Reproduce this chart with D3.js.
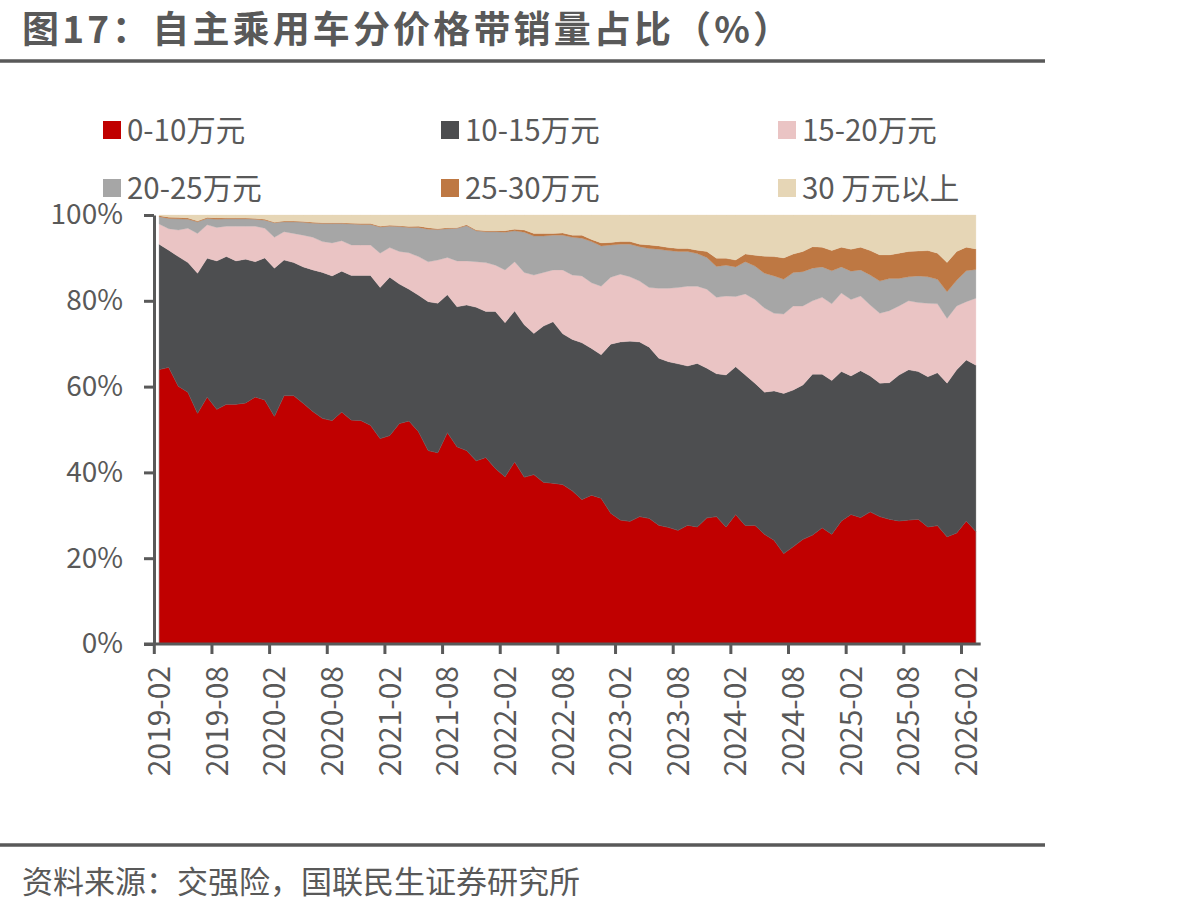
<!DOCTYPE html>
<html><head><meta charset="utf-8">
<script src="https://cdn.jsdelivr.net/npm/d3@7"></script>
<style>
body{margin:0;background:#fff}
svg{display:block}
text{font-family:"Noto Sans CJK SC","Noto Sans",sans-serif;fill:#595959}
</style></head>
<body><svg id="c" width="1200" height="912"></svg>
<script>
const months = ["2019-02","2019-03","2019-04","2019-05","2019-06","2019-07","2019-08","2019-09","2019-10","2019-11","2019-12",
"2020-01","2020-02","2020-03","2020-04","2020-05","2020-06","2020-07","2020-08","2020-09","2020-10","2020-11","2020-12",
"2021-01","2021-02","2021-03","2021-04","2021-05","2021-06","2021-07","2021-08","2021-09","2021-10","2021-11","2021-12",
"2022-01","2022-02","2022-03","2022-04","2022-05","2022-06","2022-07","2022-08","2022-09","2022-10","2022-11","2022-12",
"2023-01","2023-02","2023-03","2023-04","2023-05","2023-06","2023-07","2023-08","2023-09","2023-10","2023-11","2023-12",
"2024-01","2024-02","2024-03","2024-04","2024-05","2024-06","2024-07","2024-08","2024-09","2024-10","2024-11","2024-12",
"2025-01","2025-02","2025-03","2025-04","2025-05","2025-06","2025-07","2025-08","2025-09","2025-10","2025-11","2025-12",
"2026-01","2026-02","2026-03"];
const tickLabels = ["2019-02","2019-08","2020-02","2020-08","2021-02","2021-08","2022-02","2022-08","2023-02","2023-08","2024-02","2024-08","2025-02","2025-08","2026-02"];
const seriesNames = ["0-10万元","10-15万元","15-20万元","20-25万元","25-30万元","30 万元以上"];
const seriesColors = ["#C00000","#4D4E50","#EAC4C4","#A6A6A6","#BE7843","#E6D6B6"];
const yTicks = [0,20,40,60,80,100];

const s0_10 = [64.0,64.5,60.1,58.7,53.8,57.6,54.7,55.9,55.9,56.2,57.6,56.9,53.1,57.9,57.9,56.1,54.2,52.6,52.1,54.1,52.2,52.1,51.0,47.9,48.6,51.4,52.0,49.5,45.1,44.6,49.3,46.0,45.1,42.7,43.5,40.9,39.0,42.5,38.9,39.5,37.7,37.5,37.2,35.7,33.7,34.7,34.0,30.5,28.9,28.6,29.7,29.3,27.7,27.2,26.5,27.7,27.3,29.4,29.7,27.3,30.2,27.6,27.7,25.6,24.2,21.1,22.7,24.4,25.4,27.1,25.6,28.7,30.2,29.5,30.8,29.7,29.1,28.7,28.9,29.1,27.3,27.6,25.0,25.9,28.7,26.2];
const s10_15 = [29.2,27.3,30.2,30.2,32.6,32.3,34.6,34.4,33.4,33.5,31.5,33.1,34.5,31.6,31.0,31.8,33.0,34.0,33.7,32.8,33.7,33.8,34.9,35.2,36.9,32.5,30.7,31.8,34.7,34.8,32.1,32.6,33.9,35.8,34.0,36.6,35.9,35.1,35.5,32.9,36.4,37.6,35.1,35.3,36.5,34.2,33.4,39.4,41.5,42.0,40.7,39.9,38.9,38.6,38.8,37.1,38.1,34.9,33.3,35.4,34.4,35.1,33.1,33.1,34.8,37.3,36.5,36.0,37.5,35.8,35.8,34.8,32.3,34.2,31.7,31.1,31.8,34.0,35.0,34.4,35.0,35.6,35.8,38.0,37.5,38.8];
const s15_20 = [4.7,5.0,6.2,8.0,9.3,7.8,7.8,7.1,8.1,7.7,8.3,6.9,7.2,6.6,6.8,7.4,7.6,7.2,7.7,7.1,7.1,7.1,7.1,8.0,6.9,7.6,8.5,9.0,9.3,10.1,8.7,10.7,10.3,10.6,11.4,10.8,12.3,11.5,12.2,13.6,12.5,12.1,14.9,15.0,15.6,15.3,16.0,15.6,15.8,15.0,14.2,13.9,16.3,17.1,17.8,18.6,18.0,18.4,17.8,18.4,16.4,18.9,19.5,19.6,18.1,18.5,19.6,18.4,17.1,17.9,17.9,18.3,17.8,17.4,16.5,16.3,16.8,16.1,16.1,16.1,17.1,16.1,15.1,14.9,13.6,15.6];
const s20_25 = [1.7,2.4,2.6,2.1,2.7,1.5,1.9,1.7,1.7,1.7,1.6,1.9,3.4,2.3,2.7,3.0,3.3,4.2,4.5,4.0,4.9,4.8,4.8,6.1,5.0,5.8,5.9,6.8,7.6,7.1,6.7,7.6,8.2,7.2,7.2,7.8,8.8,7.2,9.4,9.1,8.5,8.1,8.1,8.8,8.8,9.6,9.4,7.5,7.0,7.6,8.0,9.1,9.1,8.8,8.4,8.1,7.6,7.4,7.2,7.2,6.9,7.5,7.8,8.1,8.7,8.1,7.8,8.0,7.6,7.1,7.7,6.1,6.6,6.1,7.0,7.5,7.5,6.4,5.6,6.2,6.2,5.7,6.2,6.0,7.2,6.7];
const s25_30 = [0.2,0.3,0.3,0.3,0.2,0.2,0.3,0.2,0.2,0.2,0.2,0.2,0.1,0.2,0.2,0.2,0.2,0.2,0.2,0.2,0.2,0.2,0.2,0.2,0.2,0.2,0.2,0.3,0.3,0.2,0.2,0.1,0.2,0.2,0.2,0.2,0.3,0.4,0.5,0.6,0.6,0.4,0.5,0.5,0.7,0.5,0.7,0.6,0.6,0.6,0.6,0.8,0.8,0.7,0.7,0.7,0.8,1.4,1.9,1.6,1.6,1.8,2.5,4.0,4.5,5.0,4.3,4.7,5.0,4.6,4.7,4.6,5.1,5.3,5.7,6.1,5.5,5.9,5.9,5.8,6.1,6.1,6.8,6.7,5.5,4.8];
const s30plus = [0.2,0.5,0.6,0.7,1.4,0.6,0.7,0.7,0.7,0.7,0.8,1.0,1.7,1.4,1.4,1.5,1.7,1.8,1.8,1.8,1.9,2.0,2.0,2.6,2.4,2.5,2.7,2.6,3.0,3.2,3.0,3.0,2.3,3.5,3.7,3.7,3.7,3.3,3.5,4.3,4.3,4.3,4.2,4.7,4.7,5.7,6.5,6.4,6.2,6.2,6.8,7.0,7.2,7.6,7.8,7.8,8.2,8.5,10.1,10.1,10.5,9.1,9.4,9.6,9.7,10.0,9.1,8.5,7.4,7.5,8.3,7.5,8.0,7.5,8.3,9.3,9.3,8.9,8.5,8.4,8.3,8.9,11.1,8.5,7.5,7.9];

const seriesData = [s0_10, s10_15, s15_20, s20_25, s25_30, s30plus];
const table = months.map((m, i) => {
  const row = {month: m};
  seriesNames.forEach((k, j) => row[k] = seriesData[j][i]);
  return row;
});

const svg = d3.select("#c");
svg.append("rect").attr("width",1200).attr("height",912).attr("fill","#fff");

const x = d3.scaleBand().domain(months).range([154.3, 980.7]).padding(0);
const bw = x.bandwidth();
const y = d3.scaleLinear().domain([0,100]).range([644, 215]);

const stack = d3.stack().keys(seriesNames);
const layers = stack(table);
const area = d3.area()
  .x(d => x(d.data.month) + bw/2)
  .y0(d => y(d[0]))
  .y1(d => y(Math.min(100, d[1])));

svg.append("g").selectAll("path").data(layers).join("path")
  .attr("d", area)
  .attr("fill", (d,i) => seriesColors[i])
  .attr("stroke", (d,i) => i === 0 ? "#8a6a6a" : seriesColors[i])
  .attr("stroke-width", (d,i) => i === 0 ? 0.6 : 0.3);

// Title
svg.append("text").attr("x",22).attr("y",43).attr("font-size",37).attr("font-weight","bold")
  .attr("textLength",768).attr("lengthAdjust","spacing")
  .text("图17：自主乘用车分价格带销量占比（%）");
svg.append("line").attr("x1",0).attr("x2",1045).attr("y1",61).attr("y2",61)
  .attr("stroke","#595959").attr("stroke-width",3.5);

// Legend
const legX = [103, 441, 778], legY = [130, 188];
const leg = svg.append("g");
seriesNames.forEach((name, i) => {
  const lx = legX[i % 3], ly = legY[Math.floor(i / 3)];
  leg.append("rect").attr("x", lx).attr("y", ly - 9).attr("width", 18).attr("height", 18).attr("fill", seriesColors[i]);
  leg.append("text").attr("x", lx + 24).attr("y", ly).attr("dy","0.36em").attr("font-size",29.5).text(name);
});

// Y axis
const yAxis = svg.append("g").attr("transform","translate(154,0)")
  .call(d3.axisLeft(y).tickValues(yTicks).tickFormat(d => d + "%").tickSize(10).tickSizeOuter(0).tickPadding(21));
yAxis.select(".domain").attr("stroke","#595959").attr("stroke-width",3);
yAxis.selectAll(".tick line").attr("stroke","#595959").attr("stroke-width",3);
yAxis.selectAll(".tick text").attr("font-size",28).attr("fill","#595959")
  .attr("font-family",'"Noto Sans CJK SC","Noto Sans",sans-serif');

// X axis
const xAxis = svg.append("g").attr("transform","translate(0,644)")
  .call(d3.axisBottom(x).tickValues(tickLabels).tickSize(10).tickSizeOuter(0));
xAxis.select(".domain").attr("stroke","#595959").attr("stroke-width",3)
  .attr("d", `M144,0H${980.7}`);
xAxis.selectAll(".tick line").attr("stroke","#595959").attr("stroke-width",3)
  .attr("x1", -bw/2).attr("x2", -bw/2);
xAxis.selectAll(".tick text")
  .attr("font-size",30).attr("fill","#595959")
  .attr("font-family",'"Noto Sans CJK SC","Noto Sans",sans-serif')
  .attr("text-anchor","end")
  .attr("transform","translate(0,22) rotate(-90)")
  .attr("x",0).attr("y",0).attr("dy","0.36em");

// Footer
svg.append("line").attr("x1",0).attr("x2",1045).attr("y1",845).attr("y2",845)
  .attr("stroke","#595959").attr("stroke-width",3.5);
svg.append("text").attr("x",22).attr("y",893).attr("font-size",31)
  .text("资料来源：交强险，国联民生证券研究所");
</script></body></html>
